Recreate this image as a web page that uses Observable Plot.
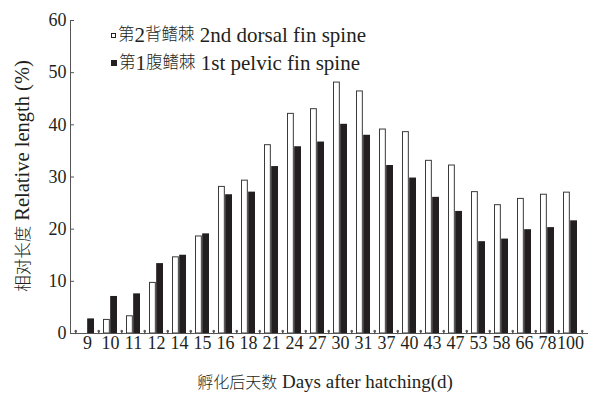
<!DOCTYPE html>
<html>
<head>
<meta charset="utf-8">
<script src="https://cdn.jsdelivr.net/npm/d3@7"></script>
<script src="https://cdn.jsdelivr.net/npm/@observablehq/plot@0.6"></script>
<style>
  html, body { margin: 0; padding: 0; background: #fff; }
  #wrap { position: relative; width: 595px; height: 393px; font-family: "Liberation Serif", "Noto Sans CJK SC", serif; color: #231f20; }
  #legend { position: absolute; left: 111px; top: 21px; line-height: 28px; }
  #legend .row { display: flex; align-items: center; white-space: nowrap; height: 28px; }
  #legend .sw { width: 5px; height: 5px; margin-right: 2px; box-sizing: border-box; }
  #legend .cjk { font-size: 16.5px; font-weight: 300; }
  #legend .lat { font-size: 21px; }
</style>
</head>
<body>
<div id="wrap"></div>
<script>
const days = ["9","10","11","12","14","15","16","18","21","24","27","30","31","37","40","43","47","53","58","66","78","100"];
const dorsal = [null, 2.6, 3.3, 9.7, 14.6, 18.6, 28.1, 29.3, 36.1, 42.1, 43.0, 48.1, 46.4, 39.1, 38.6, 33.1, 32.2, 27.1, 24.6, 25.8, 26.6, 27.0];
const pelvic = [2.8, 7.1, 7.6, 13.4, 15.0, 19.1, 26.6, 27.1, 32.0, 35.8, 36.7, 40.1, 38.0, 32.2, 29.8, 26.1, 23.4, 17.6, 18.1, 19.9, 20.3, 21.6];
const yTicks = [0, 10, 20, 30, 40, 50, 60];
const seriesNames = ["第2背鳍棘 2nd dorsal fin spine", "第1腹鳍棘 1st pelvic fin spine"];
const xLabel = "孵化后天数 Days after hatching(d)";
const yLabel = "相对长度 Relative length (%)";

const rows = days.map((d, i) => ({day: d, dorsal: dorsal[i], pelvic: pelvic[i]}));

const W = 595, H = 393, mL = 70, mR = 8, mT = 20, mB = 60;
const step = (W - mL - mR) / days.length;
const padIn = 0.39;
const bw = step * (1 - padIn);
const ink = "#231f20";
const font = '"Liberation Serif", "Noto Sans CJK SC", serif';

const chart = Plot.plot({
  width: W,
  height: H,
  marginLeft: mL,
  marginRight: mR,
  marginTop: mT,
  marginBottom: mB,
  style: {fontFamily: font, color: ink, background: "white", overflow: "visible"},
  x: {domain: days, paddingInner: padIn, paddingOuter: padIn / 2, axis: null},
  y: {domain: [0, 60], axis: null},
  marks: [
    Plot.barY(rows.filter(r => r.dorsal != null), {x: "day", y: "dorsal", fill: "white", stroke: "#3a3a3a", strokeWidth: 1, insetRight: bw / 2 + 0.5, insetLeft: 0.5}),
    Plot.barY(rows, {x: "day", y: "pelvic", fill: ink, insetLeft: bw / 2}),
    Plot.frame({anchor: "left", stroke: "#555"}),
    Plot.frame({anchor: "bottom", stroke: "#555"}),
    Plot.axisY({ticks: yTicks, tickSize: 0, tickPadding: 4, fontSize: 18, label: null}),
    Plot.axisY({ticks: yTicks, tickSize: -4, tickFormat: () => "", label: null, stroke: "#555"}),
    Plot.axisX({tickSize: 0, tickPadding: 3, fontSize: 18, label: null}),
    Plot.vector(days, {x: d => d, y: 0, length: 3, rotate: 0, anchor: "start", dx: -step / 2, stroke: "#555"}),
    Plot.vector([days[days.length - 1]], {x: d => d, y: 0, length: 3, rotate: 0, anchor: "start", dx: step / 2, stroke: "#555"}),
    Plot.text([xLabel], {text: d => d, frameAnchor: "bottom", textAnchor: "middle", dx: -4, dy: 48, lineAnchor: "middle", fontSize: 19, fill: ink}),
    Plot.text([yLabel], {text: d => d, frameAnchor: "left", textAnchor: "middle", dx: -48, dy: -1, rotate: -90, lineAnchor: "middle", fontSize: 20, fill: ink})
  ]
});

// mixed-size runs: CJK glyphs a bit smaller and lighter than Latin, as in the reference typesetting
function mixRuns(el, cjkSize, latSize) {
  const s = el.textContent;
  const runs = s.match(/[\u3400-\u9fff]+|[^\u3400-\u9fff]+/g) || [];
  while (el.firstChild) el.removeChild(el.firstChild);
  for (const r of runs) {
    const t = document.createElementNS("http://www.w3.org/2000/svg", "tspan");
    t.textContent = r;
    const isCJK = /[\u3400-\u9fff]/.test(r);
    t.setAttribute("font-size", isCJK ? cjkSize : latSize);
    if (isCJK) t.setAttribute("font-weight", "300");
    el.appendChild(t);
  }
}
chart.querySelectorAll("text").forEach(t => {
  if (t.textContent === xLabel) mixRuns(t, 16, 19);
  else if (t.textContent === yLabel) mixRuns(t, 16.5, 20.5);
});

const wrap = document.getElementById("wrap");
wrap.appendChild(chart);

function legendHTML(name) {
  return name.split(/([\u3400-\u9fff]+)/).filter(Boolean)
    .map(r => `<span class="${/[\u3400-\u9fff]/.test(r) ? "cjk" : "lat"}">${r.replace(/ /g, "&nbsp;")}</span>`).join("");
}
const legend = document.createElement("div");
legend.id = "legend";
legend.innerHTML = `
  <div class="row"><div class="sw" style="border:1px solid ${ink};background:#fff"></div>${legendHTML(seriesNames[0])}</div>
  <div class="row"><div class="sw" style="background:${ink};width:6px;height:6px"></div>${legendHTML(seriesNames[1])}</div>`;
wrap.appendChild(legend);
</script>
</body>
</html>
